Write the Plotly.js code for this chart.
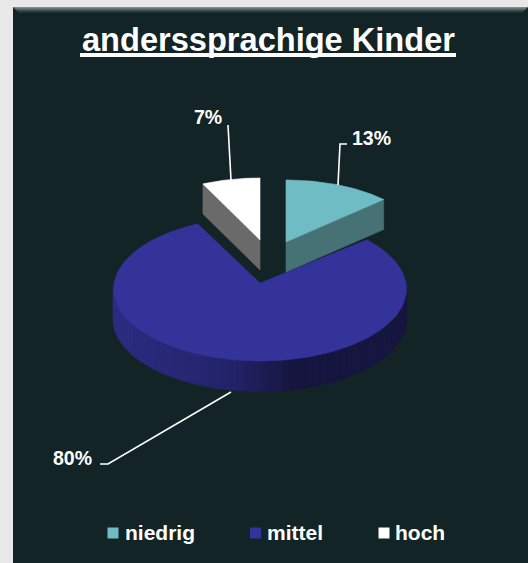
<!DOCTYPE html>
<html>
<head>
<meta charset="utf-8">
<script src="https://cdn.plot.ly/plotly-3.0.1.min.js"></script>
<style>html,body{margin:0;padding:0;background:#e8e8e8;overflow:hidden}#c{width:528px;height:563px}</style>
</head>
<body>
<div id="c"></div>
<script>
const categories = ['niedrig', 'mittel', 'hoch'];
const shares = [13, 80, 7];
const topColors = ['#70bcc4', '#333399', '#ffffff'];
const sideColors = ['#467276', '#2a2a7a', '#6a6a6a'];
const chartTitle = 'anderssprachige Kinder';

const FONT = 'Liberation Sans, Arial, sans-serif';
const WHITE = '#ffffff';
const PANEL = '#132427';
const DEPTH = 30;
// projected placement of each sector: apex, ellipse centre and radii
const geom = [
  {ax: 286, ay: 242, cx: 286, cy: 242, rx: 134, ry: 62},
  {ax: 260, ay: 283, cx: 260, cy: 289, rx: 146.5, ry: 72},
  {ax: 260, ay: 240, cx: 260, cy: 240, rx: 134, ry: 62}
];
const labelPos = [[371, 138], [72, 458], [208, 117]];
const legendX = [113, 255.5, 384];
const legendY = 533;
const legendTextX = [124.5, 267, 395];

const rad = d => d * Math.PI / 180;
function arc(g, a0, a1, dy, n) {
  const xs = [], ys = [];
  for (let i = 0; i <= n; i++) {
    const a = rad(a0 + (a1 - a0) * i / n);
    xs.push(g.cx + g.rx * Math.sin(a));
    ys.push(g.cy - g.ry * Math.cos(a) + (dy || 0));
  }
  return [xs, ys];
}
function poly(xs, ys, color, w) {
  return {type: 'scatter', mode: 'lines', x: xs, y: ys, fill: 'toself', fillcolor: color,
    line: {color: color, width: w || 0.6}, hoverinfo: 'skip', showlegend: false};
}
const total = shares.reduce((a, b) => a + b, 0);
let start = 0;
const spans = shares.map(v => { const s = [start, start + v / total * 360]; start = s[1]; return s; });

const traces = [];
// curved rim of the large sector, shaded from left to right
const g1 = geom[1];
const shadeStops = [[113, [44, 44, 130]], [230, [35, 35, 106]], [297, [21, 21, 63]], [407, [22, 22, 64]]];
function shade(x) {
  for (let i = 1; i < shadeStops.length; i++) {
    if (x <= shadeStops[i][0]) {
      const [x0, c0] = shadeStops[i - 1], [x1, c1] = shadeStops[i];
      const t = Math.max(0, (x - x0) / (x1 - x0));
      return 'rgb(' + c0.map((c, k) => Math.round(c + (c1[k] - c) * t)).join(',') + ')';
    }
  }
  return 'rgb(22,22,64)';
}
const STRIPS = 60;
for (let i = 0; i < STRIPS; i++) {
  const a0 = 90 + 180 * i / STRIPS, a1 = 90 + 180 * (i + 1) / STRIPS;
  const [xt, yt] = arc(g1, a0, a1, 0, 2);
  const [xb, yb] = arc(g1, a1, a0, DEPTH, 2);
  const col = shade((xt[0] + xt[2]) / 2);
  traces.push(poly(xt.concat(xb), yt.concat(yb), col, 1.5));
}
// top of the large sector
{
  const [xs, ys] = arc(g1, spans[1][0], spans[1][1], 0, 120);
  traces.push(poly([g1.ax].concat(xs, [g1.ax]), [g1.ay].concat(ys, [g1.ay]), topColors[1]));
}
// exploded small sectors: cut face then top
function smallSector(i, edgeAngle) {
  const g = geom[i];
  const [ex, ey] = arc(g, edgeAngle, edgeAngle, 0, 1);
  traces.push(poly([g.ax, ex[0], ex[0], g.ax, g.ax], [g.ay, ey[0], ey[0] + DEPTH, g.ay + DEPTH, g.ay], sideColors[i]));
  const [xs, ys] = arc(g, spans[i][0], spans[i][1], 0, 40);
  traces.push(poly([g.ax].concat(xs, [g.ax]), [g.ay].concat(ys, [g.ay]), topColors[i]));
}
smallSector(0, spans[0][1]);
smallSector(2, spans[2][0]);

// legend swatches
categories.forEach((c, i) => traces.push({
  type: 'scatter', mode: 'markers', x: [legendX[i]], y: [legendY], name: c,
  marker: {symbol: 'square', size: 11, color: topColors[i]}, hoverinfo: 'name', showlegend: false
}));

const annotations = [];
shares.forEach((v, i) => annotations.push({
  x: labelPos[i][0], y: labelPos[i][1], xref: 'x', yref: 'y', text: '<b>' + v + '%</b>', showarrow: false,
  xanchor: 'center', yanchor: 'middle', font: {family: FONT, size: 19.5, color: WHITE}
}));
categories.forEach((c, i) => annotations.push({
  x: legendTextX[i], y: legendY - 1, xref: 'x', yref: 'y', text: '<b>' + c + '</b>', showarrow: false,
  xanchor: 'left', yanchor: 'middle', borderpad: 0, borderwidth: 0, font: {family: FONT, size: 21, color: WHITE}
}));
annotations.push({
  x: 268, y: 39, xref: 'x', yref: 'y', text: '<b>' + chartTitle + '</b>', showarrow: false,
  xanchor: 'center', yanchor: 'middle', font: {family: FONT, size: 32.6, color: WHITE}
});

const bevel = [['#7d8d8e', 0], ['#66787a', 1], ['#506366', 2], ['#3c5053', 3], ['#2b3e41', 4], ['#1e3033', 5]];
const shapes = [
  {type: 'rect', layer: 'below', x0: 13, x1: 528, y0: 7, y1: 563, fillcolor: PANEL, line: {width: 0}}
].concat(bevel.map(([c, k]) => ({
  type: 'path', layer: 'below',
  path: `M${13 + k},${7 + k} L${528 - k},${7 + k} L${527 - k},${8 + k} L${14 + k},${8 + k} Z`,
  fillcolor: c, line: {width: 0}
})), [
  {type: 'line', layer: 'above', x0: 80, x1: 456, y0: 55, y1: 55, line: {color: WHITE, width: 4}},
  {type: 'path', layer: 'above', path: 'M338,185 L340,144 L347,144', line: {color: WHITE, width: 1.6}},
  {type: 'path', layer: 'above', path: 'M231,180 L228,125', line: {color: WHITE, width: 1.6}},
  {type: 'path', layer: 'above', path: 'M231,392 L108,464 L100,464', line: {color: WHITE, width: 1.6}}
]);

const hidden = {visible: false, fixedrange: true};
Plotly.newPlot('c', traces, {
  width: 528, height: 563,
  margin: {l: 0, r: 0, t: 0, b: 0},
  paper_bgcolor: '#e8e8e8', plot_bgcolor: 'rgba(0,0,0,0)',
  xaxis: Object.assign({range: [0, 528]}, hidden),
  yaxis: Object.assign({range: [563, 0]}, hidden),
  showlegend: false, shapes, annotations
}, {displayModeBar: false, staticPlot: true});
</script>
</body>
</html>
